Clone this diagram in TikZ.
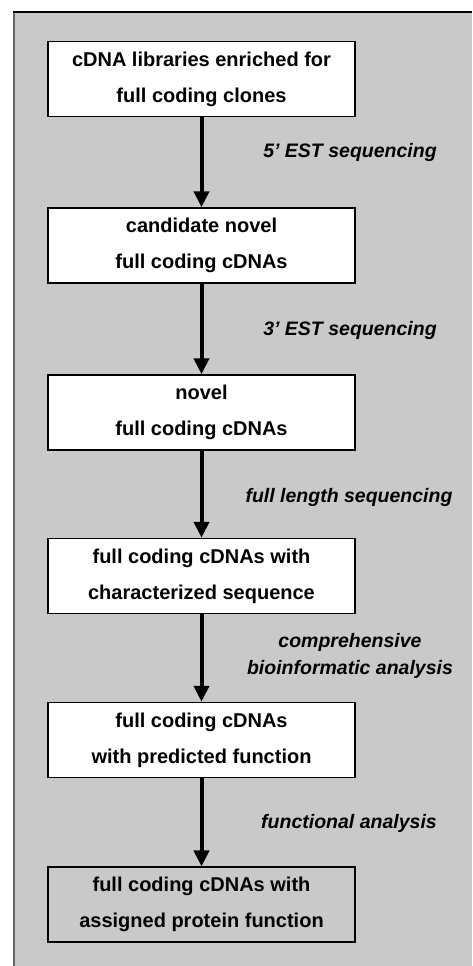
\documentclass[tikz,border=0pt]{standalone}
\usepackage{fontspec}
\setmainfont{Liberation Sans}
\usetikzlibrary{arrows.meta}
\definecolor{bgspeck}{gray}{0.79}
\begin{document}
\begin{tikzpicture}[x=1pt,y=-1pt,
  stepbox/.style={draw=black, line width=1.5pt, fill=white, minimum width=307pt, minimum height=75pt,
    inner sep=0pt, align=center, font=\fontsize{20}{36}\selectfont\bfseries},
  lastbox/.style={stepbox, fill=none, line width=1.1pt},
  flow/.style={line width=4pt, -{Triangle[width=15pt,length=16pt]}},
  steplabel/.style={font=\fontsize{19.5}{27}\selectfont\bfseries\itshape, align=center, inner sep=0pt}]
\useasboundingbox (0,0) rectangle (472,966);
\fill[bgspeck] (14,12) rectangle (472,966);
\draw[line width=2pt, black!60] (14,966) -- (14,12);
\draw[line width=2pt, black] (13,12) -- (472,12);

\node[stepbox] (b1) at (201.5,79) {cDNA libraries enriched for\\full coding clones};
\node[stepbox] (b2) at (201.5,245.5) {candidate novel\\full coding cDNAs};
\node[stepbox] (b3) at (201.5,412.5) {novel\\full coding cDNAs};
\node[stepbox] (b4) at (201.5,576) {full coding cDNAs with\\characterized sequence};
\node[stepbox] (b5) at (201.5,740) {full coding cDNAs\\with predicted function};
\node[lastbox] (b6) at (201.5,904.5) {full coding cDNAs with\\assigned protein function};

\draw[flow] (b1) -- (b2);
\draw[flow] (b2) -- (b3);
\draw[flow] (b3) -- (b4);
\draw[flow] (b4) -- (b5);
\draw[flow] (b5) -- (b6);

\node[steplabel] (l1) at (350,152) {5' EST sequencing};
\node[steplabel] (l2) at (350,330) {3' EST sequencing};
\node[steplabel] (l3) at (349,497) {full length sequencing};
\node[steplabel] (l4) at (350,656) {comprehensive\\bioinformatic analysis};
\node[steplabel] (l5) at (349,823) {functional analysis};
\end{tikzpicture}
\end{document}
